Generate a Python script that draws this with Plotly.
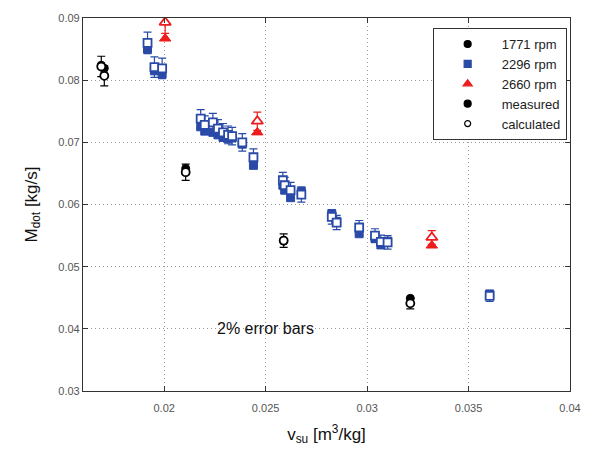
import plotly.graph_objects as go

# Specific suction volume v_su [m3/kg] and mass flow rate [kg/s]
# for each compressor speed: measured and calculated values.
x_1771 = [0.01690, 0.01705, 0.02106, 0.02589, 0.03213]
meas_1771 = [0.0824, 0.0819, 0.0658, 0.0541, 0.0449]
calc_1771 = [0.0822, 0.0807, 0.0652, 0.0542, 0.0441]

x_2296 = [0.01918, 0.01952, 0.01990, 0.02180, 0.02200, 0.02240, 0.02265,
          0.02290, 0.02315, 0.02335, 0.02385, 0.02440, 0.02585, 0.02594,
          0.02623, 0.02676, 0.02826, 0.02850, 0.02961, 0.03039, 0.03068,
          0.03101, 0.03604]
meas_2296 = [0.0850, 0.0815, 0.0810, 0.0725, 0.0718, 0.0716, 0.0712,
             0.0708, 0.0706, 0.0707, 0.0697, 0.0663, 0.0631, 0.0623,
             0.0611, 0.0621, 0.0585, 0.0573, 0.0553, 0.0545, 0.0535,
             0.0541, 0.0456]
calc_2296 = [0.0860, 0.0821, 0.0819, 0.0738, 0.0728, 0.0732, 0.0722,
             0.0716, 0.0712, 0.0710, 0.0700, 0.0676, 0.0639, 0.0631,
             0.0623, 0.0616, 0.0580, 0.0571, 0.0563, 0.0550, 0.0540,
             0.0539, 0.0453]

x_2660 = [0.02005, 0.02459, 0.03319]
meas_2660 = [0.0867, 0.0716, 0.0534]
calc_2660 = [0.0893, 0.0734, 0.0547]

error_pct = 2

x_ticks = [0.02, 0.025, 0.03, 0.035, 0.04]
y_ticks = [0.03, 0.04, 0.05, 0.06, 0.07, 0.08, 0.09]

BLACK = "#000000"
BLUE = "#2a4aa8"
RED = "#ee1c1c"

series = [
    ("1771 rpm", x_1771, meas_1771, calc_1771, BLACK, "circle", 8),
    ("2296 rpm", x_2296, meas_2296, calc_2296, BLUE, "square", 8),
    ("2660 rpm", x_2660, meas_2660, calc_2660, RED, "triangle-up", 10),
]

fig = go.Figure()

for name, xs, meas, calc, col, sym, size in series:
    # measured: filled markers
    fig.add_trace(go.Scatter(
        x=xs, y=meas, mode="markers", showlegend=False,
        marker=dict(symbol=sym, size=size, color=col,
                    line=dict(color=col, width=1)),
    ))
    # calculated: open markers with 2 % error bars
    fig.add_trace(go.Scatter(
        x=xs, y=calc, mode="markers", showlegend=False,
        marker=dict(symbol=sym, size=size, color="white",
                    line=dict(color=col, width=1.8)),
        error_y=dict(type="percent", value=error_pct, color=col,
                     thickness=1.2, width=4),
    ))

# legend entries
legend_items = [
    ("1771 rpm", "circle", BLACK, BLACK, 7),
    ("2296 rpm", "square", BLUE, BLUE, 7),
    ("2660 rpm", "triangle-up", RED, RED, 8),
    ("measured", "circle", BLACK, BLACK, 7),
    ("calculated", "circle", "white", BLACK, 6),
]
for label, sym, fill, edge, size in legend_items:
    fig.add_trace(go.Scatter(
        x=[None], y=[None], mode="markers", name=label,
        marker=dict(symbol=sym, size=size, color=fill,
                    line=dict(color=edge, width=1.2)),
    ))

fig.add_annotation(
    x=0.025, y=0.04, text="2% error bars", showarrow=False,
    font=dict(size=16, color="#111"),
)

axis_common = dict(
    showline=True, linecolor="#333", linewidth=1.2, mirror="ticks",
    ticks="inside", ticklen=5, tickcolor="#333",
    showgrid=True, gridcolor="#9a9a9a", griddash="1px,3px", gridwidth=1,
    zeroline=False, tickfont=dict(size=11, color="#555"),
)

fig.update_layout(
    width=593, height=452,
    margin=dict(l=83, r=13, t=18, b=61),
    paper_bgcolor="white", plot_bgcolor="white",
    font=dict(family="Liberation Sans, Arial, sans-serif", color="#111"),
    xaxis=dict(range=[0.016, 0.04], tickvals=x_ticks,
               ticktext=[str(v) for v in x_ticks],
               ticklabelstandoff=7,
               title=dict(text="v<sub>su</sub> [m<sup>3</sup>/kg]",
                          font=dict(size=17), standoff=14),
               **axis_common),
    yaxis=dict(range=[0.03, 0.09], tickvals=y_ticks,
               ticktext=[f"{v:.2f}" for v in y_ticks],
               title=dict(text="M<sub>dot</sub> [kg/s]",
                          font=dict(size=17), standoff=16),
               **axis_common),
    legend=dict(x=0.718, y=0.973, xanchor="left", yanchor="top",
                bgcolor="white", bordercolor="#333", borderwidth=1,
                font=dict(size=13, color="#222"), tracegroupgap=0,
                itemwidth=58, itemsizing="trace"),
)

fig.write_html("out.html")
